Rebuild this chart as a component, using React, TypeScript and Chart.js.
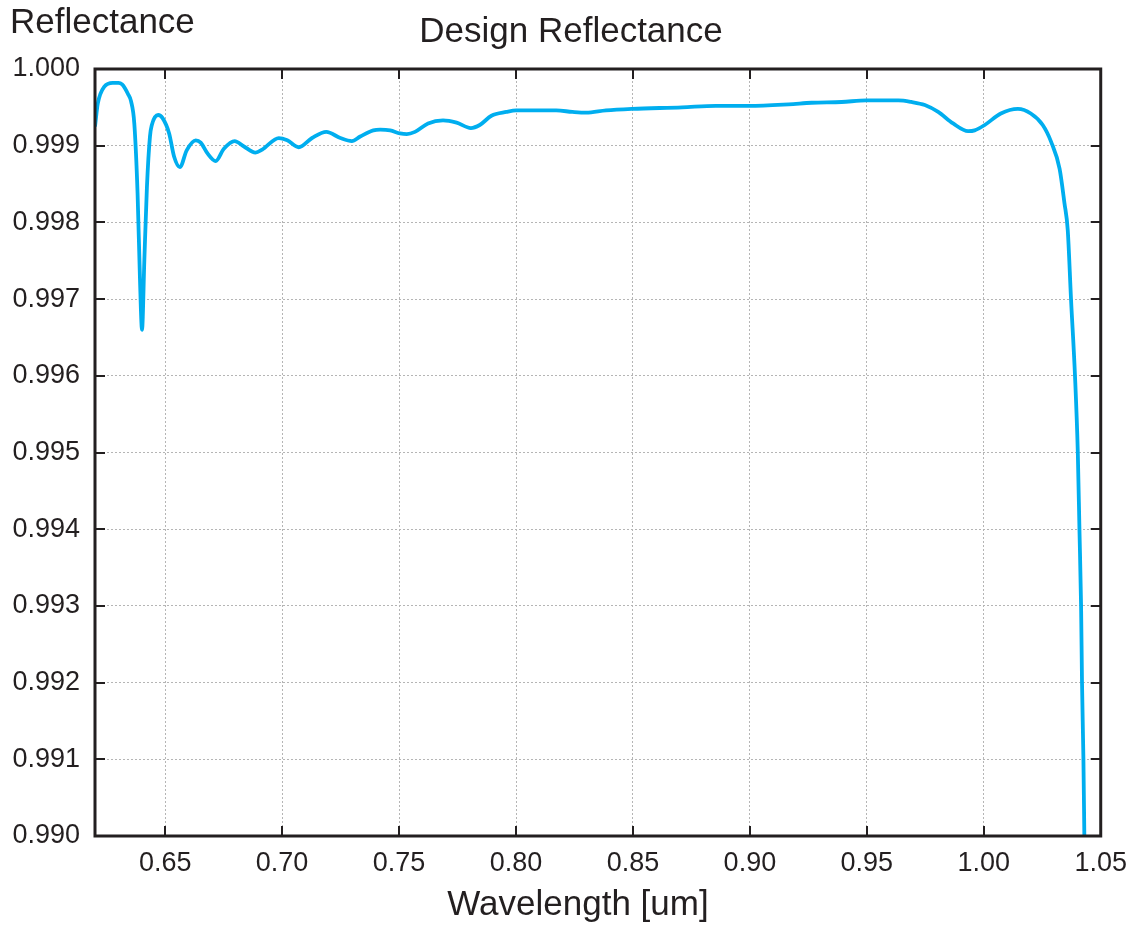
import React, { useEffect, useRef } from "react";
import { Chart, registerables } from "chart.js";

Chart.register(...registerables);

const WAVELENGTH = [
  0.62, 0.6212, 0.624, 0.6276, 0.63, 0.6316, 0.6328, 0.634, 0.6354, 0.6368, 0.6382, 0.6392,
  0.6401, 0.6411, 0.6422, 0.6435, 0.6443, 0.647, 0.6489, 0.6517, 0.6538, 0.6563,
  0.6592, 0.6631, 0.6652, 0.6681, 0.6716, 0.6751, 0.6797, 0.6837, 0.6886, 0.6915,
  0.6986, 0.7022, 0.7071, 0.7128, 0.7189, 0.7249, 0.7298, 0.7334, 0.739, 0.7419,
  0.7462, 0.7504, 0.7533, 0.7568, 0.7624, 0.7688, 0.7746, 0.7807, 0.7845, 0.7895,
  0.7959, 0.8001, 0.8172, 0.8241, 0.83, 0.8385, 0.8497, 0.871, 0.8854, 0.8996,
  0.9166, 0.9264, 0.9392, 0.9498, 0.9635, 0.969, 0.9748, 0.9805, 0.9869, 0.9933,
  0.9961, 1.0004, 1.0073, 1.0146, 1.0201, 1.0252, 1.0288, 1.0324, 1.0345, 1.0359,
  1.0373, 1.039, 1.0402, 1.0409, 1.0416, 1.042, 1.0426, 1.043,
];

const REFLECTANCE = [
  0.99925, 0.99955, 0.99977, 0.99982, 0.99982, 0.9998, 0.99975, 0.99968, 0.99958, 0.99929, 0.99838, 0.99729,
  0.9966, 0.99751, 0.99846, 0.99912, 0.99927, 0.9994, 0.99936, 0.99916, 0.99886, 0.99872,
  0.99894, 0.99907, 0.99904, 0.9989, 0.9988, 0.99896, 0.99906, 0.99899, 0.99891, 0.99895,
  0.9991, 0.99907, 0.99898, 0.9991, 0.99918, 0.9991, 0.99906, 0.99912, 0.9992, 0.99921,
  0.9992, 0.99916, 0.99915, 0.99918, 0.99929, 0.99933, 0.9993, 0.99923, 0.99927, 0.99939,
  0.99944, 0.99946, 0.99946, 0.99944, 0.99943, 0.99946, 0.99948, 0.9995, 0.99952, 0.99952,
  0.99954, 0.99956, 0.99957, 0.99959, 0.99959, 0.99957, 0.99953, 0.99944, 0.99929, 0.99919,
  0.9992, 0.99927, 0.99942, 0.99948, 0.99942, 0.99927, 0.99905, 0.9987, 0.99825, 0.9979,
  0.997, 0.996, 0.995, 0.994, 0.993, 0.992, 0.991, 0.99,
];

const X_TICKS = [0.65, 0.7, 0.75, 0.8, 0.85, 0.9, 0.95, 1.0, 1.05];
const Y_TICKS = [0.99, 0.991, 0.992, 0.993, 0.994, 0.995, 0.996, 0.997, 0.998, 0.999, 1.0];

const TITLE = "Design Reflectance";
const Y_TITLE = "Reflectance";
const X_TITLE = "Wavelength [um]";

const INK = "#231f20";
const FONT = "'Liberation Sans', Arial, sans-serif";

const framePlugin = {
  id: "frame",
  afterDraw(chart: any) {
    const { ctx, chartArea, scales } = chart;
    const { left, right, top, bottom } = chartArea;
    ctx.save();
    ctx.strokeStyle = INK;
    ctx.lineWidth = 2;
    const tl = 10;
    ctx.beginPath();
    X_TICKS.forEach((v) => {
      const x = Math.round(scales.x.getPixelForValue(v));
      ctx.moveTo(x, bottom);
      ctx.lineTo(x, bottom - tl);
      ctx.moveTo(x, top);
      ctx.lineTo(x, top + tl);
    });
    Y_TICKS.forEach((v) => {
      const y = Math.round(scales.y.getPixelForValue(v));
      ctx.moveTo(left, y);
      ctx.lineTo(left + tl, y);
      ctx.moveTo(right, y);
      ctx.lineTo(right - tl, y);
    });
    ctx.stroke();
    ctx.lineWidth = 3;
    ctx.strokeRect(left, top, right - left, bottom - top);

    ctx.fillStyle = INK;
    ctx.font = `35px ${FONT}`;
    ctx.textBaseline = "alphabetic";
    ctx.textAlign = "left";
    ctx.fillText(Y_TITLE, 10, 33);
    ctx.textAlign = "center";
    ctx.fillText(TITLE, 571, 42);
    ctx.fillText(X_TITLE, 578, 915);
    ctx.restore();
  },
};

export default function App() {
  const ref = useRef<HTMLCanvasElement | null>(null);

  useEffect(() => {
    if (!ref.current) return;
    const points = WAVELENGTH.map((x, i) => ({ x, y: REFLECTANCE[i] }));
    const chart = new Chart(ref.current, {
      type: "line",
      data: {
        datasets: [
          {
            data: points,
            borderColor: "#00aeef",
            borderWidth: 3.8,
            pointRadius: 0,
            fill: false,
            cubicInterpolationMode: "monotone",
          },
        ],
      },
      options: {
        responsive: false,
        animation: false,
        layout: { padding: { left: 0, top: 69, right: 35, bottom: 0 } },
        plugins: {
          legend: { display: false },
          title: { display: false },
          tooltip: { enabled: false },
        },
        scales: {
          x: {
            type: "linear",
            min: 0.62,
            max: 1.05,
            afterBuildTicks: (scale: any) => {
              scale.ticks = X_TICKS.map((v) => ({ value: v }));
            },
            afterFit: (scale: any) => {
              scale.height = 91;
            },
            grid: { color: "#b5b5b5", lineWidth: 1, drawTicks: false },
            border: { display: false, dash: [2, 2] },
            ticks: {
              padding: 11,
              color: INK,
              font: { family: FONT, size: 27 },
              maxRotation: 0,
              autoSkip: false,
              callback: (v: any) => Number(v).toFixed(2),
            },
          },
          y: {
            type: "linear",
            min: 0.99,
            max: 1.0,
            afterBuildTicks: (scale: any) => {
              scale.ticks = Y_TICKS.map((v) => ({ value: v }));
            },
            afterFit: (scale: any) => {
              scale.width = 95;
            },
            grid: { color: "#b5b5b5", lineWidth: 1, drawTicks: false },
            border: { display: false, dash: [2, 2] },
            ticks: {
              padding: 15,
              color: INK,
              font: { family: FONT, size: 27 },
              autoSkip: false,
              callback: (v: any) => Number(v).toFixed(3),
            },
          },
        },
      },
      plugins: [framePlugin],
    });
    return () => chart.destroy();
  }, []);

  return (
    <div style={{ position: "fixed", left: 0, top: 0, width: 1138, height: 927, background: "#fff" }}>
      <canvas ref={ref} width={1138} height={927} style={{ width: 1138, height: 927 }} />
    </div>
  );
}
